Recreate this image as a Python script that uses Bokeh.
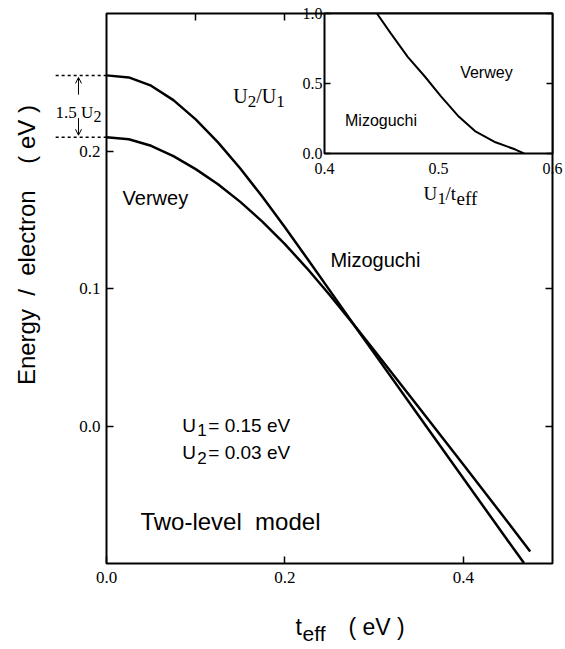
import math
from bokeh.plotting import figure
from bokeh.models import Range1d, LinearAxis, FixedTicker, Label, Arrow, OpenHead, PrintfTickFormatter
from bokeh.embed import file_html
from bokeh.resources import INLINE

# ---------------- data ----------------
# main panel: energy per electron vs t_eff
t_upper = [0.0, 0.025, 0.05, 0.075, 0.1, 0.125, 0.15, 0.175, 0.2, 0.225, 0.25, 0.2825, 0.3, 0.35, 0.4, 0.45, 0.468]
E_upper = [0.255, 0.2535, 0.2475, 0.237, 0.223, 0.2063, 0.1873, 0.1665, 0.1445, 0.1218, 0.0988, 0.0689, 0.0530, 0.0075, -0.038, -0.0835, -0.0997]
t_lower = [0.0, 0.025, 0.05, 0.075, 0.1, 0.125, 0.15, 0.175, 0.2, 0.225, 0.25, 0.2825, 0.3, 0.35, 0.4, 0.45, 0.475]
E_lower = [0.210, 0.2085, 0.2038, 0.1963, 0.1868, 0.1758, 0.1630, 0.1485, 0.1323, 0.1145, 0.0955, 0.0695, 0.0551, 0.0136, -0.028, -0.070, -0.0912]

main_x_ticks = [0.0, 0.2, 0.4]
main_top_ticks = [0.1, 0.2, 0.3, 0.4]
main_y_ticks = [0.0, 0.1, 0.2]

# inset: phase boundary U2/U1 vs U1/t_eff
u_ratio = [0.446, 0.458, 0.473, 0.488, 0.502, 0.517, 0.532, 0.550, 0.567, 0.575]
v_ratio = [1.0, 0.86, 0.69, 0.55, 0.41, 0.27, 0.16, 0.08, 0.03, 0.0]
inset_x_ticks = [0.4, 0.5, 0.6]
inset_y_ticks = [0.0, 0.5, 1.0]

SANS = "Liberation Sans"
SERIF = "Liberation Serif"

# ---------------- layout constants (pixels) ----------------
X0, X1, Y0, Y1 = 0.0, 0.5, -0.1, 0.3
FW, FH = 446, 550
BL, BT, BR, BB = 106, 13, 12, 84
CW, CH = BL + FW + BR, BT + FH + BB


def mk_axis(ticks, labels=True, size="17px", standoff=6, tick_in=7):
    ax = LinearAxis(ticker=FixedTicker(ticks=ticks, minor_ticks=[]))
    ax.formatter = PrintfTickFormatter(format="%.1f")
    ax.axis_line_color = None
    ax.major_tick_in = tick_in
    ax.major_tick_out = 0
    ax.major_tick_line_width = 1.5
    ax.major_tick_line_color = "black" if tick_in > 0 else None
    ax.minor_tick_line_color = None
    ax.major_label_text_font = SERIF
    ax.major_label_text_font_size = size
    ax.major_label_text_color = "black" if labels else None
    ax.major_label_standoff = standoff
    return ax


def put(fig, x, y, text, font=SANS, size=18, dx=0, dy=0, align="left",
        baseline="alphabetic", angle=0.0):
    fig.add_layout(Label(x=x, y=y, text=text, x_offset=dx, y_offset=dy,
                         text_font=font, text_font_size=f"{size}px",
                         text_align=align, text_baseline=baseline,
                         angle=angle, text_color="black"))


# ---------------- main figure ----------------
p = figure(frame_width=FW, frame_height=FH,
           x_range=Range1d(X0, X1), y_range=Range1d(Y0, Y1),
           x_axis_location=None, y_axis_location=None, title=None,
           min_border_left=BL, min_border_right=BR, min_border_top=BT, min_border_bottom=BB,
           output_backend="svg", toolbar_location=None)
p.xgrid.grid_line_color = None
p.ygrid.grid_line_color = None
p.outline_line_color = "black"
p.outline_line_width = 2
p.background_fill_color = "white"
p.border_fill_color = "white"

p.add_layout(mk_axis(main_y_ticks, True, "17px", 6), "left")
p.add_layout(mk_axis(main_y_ticks, False), "right")
p.add_layout(mk_axis(main_x_ticks, True, "17px", 8), "below")
p.add_layout(mk_axis(main_top_ticks, False), "above")

p.line(t_upper, E_upper, line_color="black", line_width=2.5)
p.line(t_lower, E_lower, line_color="black", line_width=2.5)

# in-frame texts
put(p, 0.018, 0.1656, "Verwey", SANS, 20)
put(p, 0.251, 0.121, "Mizoguchi", SANS, 20)
for e, sub, val in ((0.0007, "1", "= 0.15 eV"), (-0.0196, "2", "= 0.03 eV")):
    put(p, 0.085, e, "U", SANS, 19)
    put(p, 0.085, e, sub, SANS, 17, dx=15, dy=-5)
    put(p, 0.085, e, val, SANS, 19, dx=26)
put(p, 0.038, -0.0697, "Two-level\u00a0 model", SANS, 24)

# inset axis titles (inside the main frame, left of / below the inset box)
put(p, 0.142, 0.240, "U", SERIF, 20)
put(p, 0.142, 0.240, "2", SERIF, 17, dx=14.5, dy=-5)
put(p, 0.142, 0.240, "/U", SERIF, 20, dx=23)
put(p, 0.142, 0.240, "1", SERIF, 17, dx=43, dy=-5)

put(p, 0.3554, 0.1692, "U", SERIF, 19)
put(p, 0.3554, 0.1692, "1", SERIF, 17, dx=14, dy=-5)
put(p, 0.3554, 0.1692, "/t", SERIF, 19, dx=22)
put(p, 0.3554, 0.1692, "eff", SERIF, 19, dx=33, dy=-5)

# ---------------- inset figure (own root, placed over the main plot) ----------------
IL, IR, IT, IB = 60, 12, 13, 30
IFW, IFH = 228, 140
ins = figure(frame_width=IFW, frame_height=IFH,
             x_range=Range1d(0.4, 0.6), y_range=Range1d(0.0, 1.0),
             x_axis_location=None, y_axis_location=None, title=None,
             min_border_left=IL, min_border_right=IR, min_border_top=IT, min_border_bottom=IB,
             output_backend="svg", toolbar_location=None)
ins.xgrid.grid_line_color = None
ins.ygrid.grid_line_color = None
ins.outline_line_color = "black"
ins.outline_line_width = 2
ins.background_fill_color = "white"
ins.border_fill_color = None
ins.add_layout(mk_axis(inset_y_ticks, True, "16px", 2, tick_in=6), "left")
ins.add_layout(mk_axis(inset_y_ticks, False, tick_in=6), "right")
ins.add_layout(mk_axis(inset_x_ticks, True, "16px", 9, tick_in=0), "below")
ins.line(u_ratio, v_ratio, line_color="black", line_width=2)
put(ins, 0.519, 0.58, "Verwey", SANS, 16)
put(ins, 0.418, 0.236, "Mizoguchi", SANS, 16)
ins_left = BL + FW - IFW - IL
ins.styles = {"position": "absolute", "left": f"{ins_left}px", "top": "0px", "z-index": "5"}

# ---------------- transparent overlay with the same data mapping (outside-frame texts) ----------------
sx = FW / (X1 - X0)
sy = FH / (Y1 - Y0)
ov = figure(width=CW, height=CH,
            x_range=Range1d(X0 - BL / sx, X1 + BR / sx),
            y_range=Range1d(Y0 - BB / sy, Y1 + BT / sy),
            x_axis_location=None, y_axis_location=None, title=None,
            min_border=0, output_backend="svg", toolbar_location=None)
ov.xgrid.grid_line_color = None
ov.ygrid.grid_line_color = None
ov.outline_line_color = None
ov.background_fill_color = None
ov.border_fill_color = None
ov.styles = {"position": "absolute", "left": "0px", "top": "0px", "z-index": "6"}

# dashed guide lines at the two t=0 energies, arrows and 1.5 U2
for e0 in (E_upper[0], E_lower[0]):
    ov.add_layout(Arrow(end=None, x_start=-0.057, y_start=e0, x_end=0.0, y_end=e0,
                        line_color="black", line_width=1.5, line_dash="3 3"))
ov.add_layout(Arrow(end=OpenHead(size=6, line_width=1), x_start=-0.0314, y_start=E_upper[0] - 0.014,
                    x_end=-0.0314, y_end=E_upper[0] - 0.0015, line_width=1))
ov.add_layout(Arrow(end=OpenHead(size=6, line_width=1), x_start=-0.0314, y_start=E_lower[0] + 0.014,
                    x_end=-0.0314, y_end=E_lower[0] + 0.0015, line_width=1))
put(ov, -0.0572, 0.228, "1.5 U", SERIF, 17)
put(ov, -0.0572, 0.228, "2", SERIF, 16, dx=38, dy=-4)

# axis titles
put(ov, -0.0897, 0.1316, "Energy\u00a0 /\u00a0 electron\u00a0 \u00a0 ( eV )", SANS, 24,
    align="center", angle=math.pi / 2)
put(ov, 0.2119, -0.1465, "t", SANS, 23)
put(ov, 0.2119, -0.1465, "eff", SANS, 21, dx=7, dy=-6)
put(ov, 0.2119, -0.1465, "( eV )", SANS, 23, dx=53)

with open("out.html", "w") as f:
    f.write(file_html([p, ins, ov], INLINE))
